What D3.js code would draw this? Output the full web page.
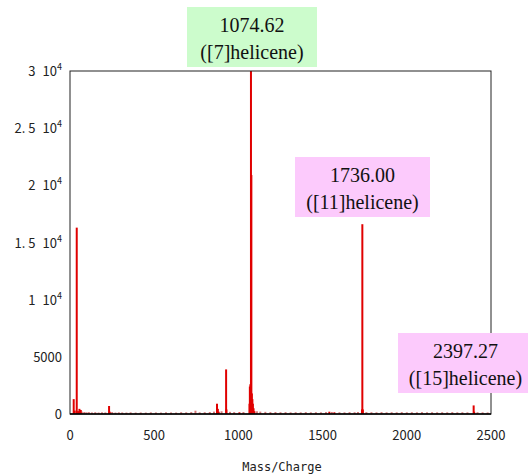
<!DOCTYPE html>
<html>
<head>
<meta charset="utf-8">
<script src="https://cdn.jsdelivr.net/npm/d3@7"></script>
<style>
  body { margin: 0; background: #fff; }
  svg { display: block; }
</style>
</head>
<body>
<svg id="chart" width="528" height="475"></svg>
<script>
// peaks: [m/z, intensity]
const peaks = [
  [22, 1300], [28, 300], [40, 16300], [48, 250], [56, 450], [64, 350],
  [232, 700], [236, 200],
  [873, 900], [878, 450], [883, 200],
  [927, 3900], [929, 400],
  [1006, 150],
  [1066, 900], [1068, 2400], [1071, 2600], [1074.62, 31000], [1077, 20900],
  [1080, 1800], [1083, 1300], [1086, 900], [1090, 500], [1095, 250],
  [1540, 200], [1570, 150],
  [1734, 400], [1736, 16600], [1739, 400],
  [2397, 750], [2400, 200]
];

// low-level baseline noise (m/z, intensity)
const noise = [
  [70, 120], [85, 90], [98, 60], [112, 80], [130, 50], [150, 70], [170, 40], [190, 60],
  [210, 50], [250, 80], [270, 40], [290, 60], [310, 50], [335, 40], [360, 60], [390, 40],
  [420, 50], [450, 40], [480, 60], [510, 50], [540, 40], [570, 60], [600, 50], [630, 40],
  [660, 70], [690, 60], [720, 80], [745, 200], [770, 60], [800, 70], [830, 90], [855, 120],
  [900, 150], [950, 100], [975, 80], [1030, 90], [1110, 150], [1130, 120], [1160, 100],
  [1190, 80], [1220, 90], [1250, 70], [1280, 80], [1310, 60], [1340, 70], [1370, 60],
  [1400, 80], [1430, 60], [1460, 70], [1490, 60], [1520, 80], [1555, 90], [1600, 70],
  [1630, 60], [1660, 80], [1690, 70], [1710, 90], [1760, 80], [1790, 70], [1820, 60],
  [1850, 80], [1880, 60], [1910, 70], [1940, 60], [1970, 80], [2000, 60], [2030, 70],
  [2060, 60], [2090, 80], [2120, 60], [2150, 70], [2180, 60], [2210, 70], [2240, 60],
  [2270, 80], [2300, 60], [2330, 70], [2360, 60], [2420, 70], [2450, 60], [2480, 50]
];

const xTicks = [0, 500, 1000, 1500, 2000, 2500];
const yTicks = [0, 5000, 10000, 15000, 20000, 25000, 30000];
const yTickLabels = [["0", ""], ["5000", ""], ["1", "10"], ["1. 5", "10"], ["2", "10"], ["2. 5", "10"], ["3", "10"]];

const labels = [
  { mz: "1074.62", name: "([7]helicene)", fill: "#ccfccc" },
  { mz: "1736.00", name: "([11]helicene)", fill: "#fccafc" },
  { mz: "2397.27", name: "([15]helicene)", fill: "#fccafc" }
];
const labelBoxes = [[187, 7, 130, 60], [295, 157, 135, 60], [398, 333, 135, 60]];

const svg = d3.select("#chart");
const margin = { left: 70, right: 37, top: 71, bottom: 61 };
const width = 528, height = 475;

const x = d3.scaleLinear().domain([0, 2500]).range([margin.left, width - margin.right]);
const y = d3.scaleLinear().domain([0, 30000]).range([height - margin.bottom, margin.top]);

svg.append("defs").append("clipPath").attr("id", "plot")
  .append("rect")
  .attr("x", x(0)).attr("y", y(30000))
  .attr("width", x(2500) - x(0)).attr("height", y(0) - y(30000));

const g = svg.append("g").attr("clip-path", "url(#plot)");

g.selectAll("line.noise").data(noise).enter().append("line")
  .attr("class", "noise")
  .attr("x1", d => x(d[0])).attr("x2", d => x(d[0]))
  .attr("y1", y(0)).attr("y2", d => y(d[1]) - 1)
  .attr("stroke", "#c02020").attr("stroke-width", 2).attr("opacity", 0.6);

g.selectAll("line.peak").data(peaks).enter().append("line")
  .attr("class", "peak")
  .attr("x1", d => x(d[0])).attr("x2", d => x(d[0]))
  .attr("y1", y(0)).attr("y2", d => y(d[1]))
  .attr("stroke", "#e00000").attr("stroke-width", 2);

// frame
svg.append("rect")
  .attr("x", x(0)).attr("y", y(30000))
  .attr("width", x(2500) - x(0)).attr("height", y(0) - y(30000))
  .attr("fill", "none").attr("stroke", "#222").attr("stroke-width", 1);
svg.append("line")
  .attr("x1", x(0)).attr("x2", x(2500)).attr("y1", y(0)).attr("y2", y(0))
  .attr("stroke", "#000").attr("stroke-width", 1.5);

const tickFont = "'Noto Sans CJK JP', 'DejaVu Sans', sans-serif";

svg.append("g").selectAll("text").data(xTicks).enter().append("text")
  .attr("x", d => x(d)).attr("y", y(0) + 26)
  .attr("text-anchor", "middle")
  .attr("font-family", tickFont).attr("font-size", 13).attr("fill", "#222")
  .text(d => d);

const yl = svg.append("g").selectAll("text").data(yTicks).enter().append("text")
  .attr("x", x(0) - 8).attr("y", d => y(d) + 5)
  .attr("text-anchor", "end")
  .attr("font-family", tickFont).attr("font-size", 13).attr("fill", "#222");
yl.each(function(d, i) {
  const t = d3.select(this);
  const lab = yTickLabels[i];
  if (lab[1] === "") { t.text(lab[0]); return; }
  t.append("tspan").text(lab[0]);
  t.append("tspan").attr("dx", 7).text(lab[1]);
  t.append("tspan").attr("dy", -6).attr("font-size", 9).text("4");
});

svg.append("text")
  .attr("x", 282).attr("y", 471)
  .attr("text-anchor", "middle")
  .attr("font-family", "'DejaVu Sans Mono', monospace").attr("font-size", 12).attr("fill", "#222")
  .text("Mass/Charge");

// peak annotations
const ann = svg.append("g").selectAll("g").data(labels).enter().append("g");
ann.append("rect")
  .attr("x", (d, i) => labelBoxes[i][0]).attr("y", (d, i) => labelBoxes[i][1])
  .attr("width", (d, i) => labelBoxes[i][2]).attr("height", (d, i) => labelBoxes[i][3])
  .attr("fill", d => d.fill);
ann.append("text")
  .attr("x", (d, i) => labelBoxes[i][0] + labelBoxes[i][2] / 2)
  .attr("y", (d, i) => labelBoxes[i][1] + 25)
  .attr("text-anchor", "middle")
  .attr("font-family", "'Liberation Serif', 'Times New Roman', serif").attr("font-size", 20).attr("fill", "#111")
  .text(d => d.mz);
ann.append("text")
  .attr("x", (d, i) => labelBoxes[i][0] + labelBoxes[i][2] / 2)
  .attr("y", (d, i) => labelBoxes[i][1] + 52)
  .attr("text-anchor", "middle")
  .attr("font-family", "'Liberation Serif', 'Times New Roman', serif").attr("font-size", 20).attr("fill", "#111")
  .text(d => d.name);
</script>
</body>
</html>
